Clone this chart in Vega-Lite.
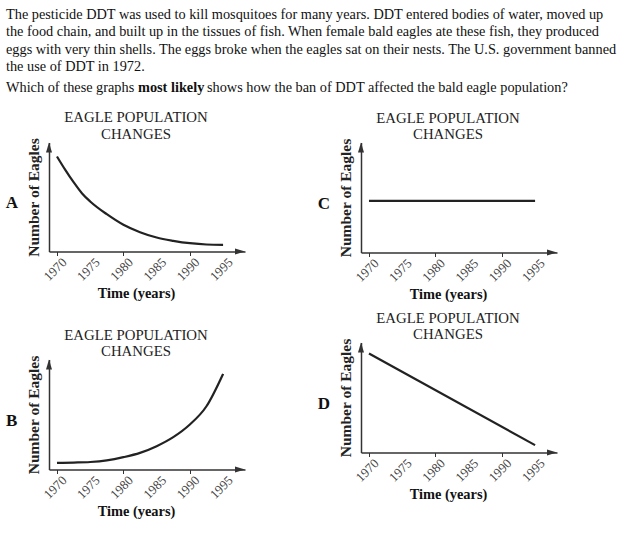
{
  "$schema": "https://vega.github.io/schema/vega-lite/v6.json",
  "background": "white",
  "padding": {"left": 5, "top": 8, "right": 2, "bottom": 2},
  "config": {
    "view": {"stroke": null},
    "font": "Liberation Serif",
    "title": {"font": "Liberation Serif"},
    "axis": {"labelFont": "Liberation Serif", "titleFont": "Liberation Serif"}
  },
  "spacing": 14.5,
  "vconcat": [
    {
      "width": 620,
      "height": 69.5,
      "layer": [
        {
          "data": {"values": [
            {"line": 1, "text": "The pesticide DDT was used to kill mosquitoes for many years.  DDT entered bodies of water, moved up"},
            {"line": 2, "text": "the food chain, and built up in the tissues of fish.  When female bald eagles ate these fish, they produced"},
            {"line": 3, "text": "eggs with very thin shells. The eggs broke when the eagles sat on their nests. The U.S. government banned"},
            {"line": 4, "text": "the use of DDT in 1972."}
          ]},
          "mark": {"type": "text", "align": "left", "baseline": "alphabetic", "fontSize": 14.3, "color": "#111", "dx": -43},
          "encoding": {
            "x": {"datum": 0, "type": "quantitative", "scale": {"domain": [0, 1]}, "axis": null},
            "y": {"field": "line", "type": "quantitative", "scale": {"domain": [1, 5], "reverse": true}, "axis": null},
            "text": {"field": "text"}
          }
        },
        {
          "data": {"values": [{"line": 5, "text": "Which of these graphs"}]},
          "mark": {"type": "text", "align": "left", "baseline": "alphabetic", "fontSize": 14.3, "color": "#111", "dy": 3, "dx": -43},
          "encoding": {
            "x": {"datum": 0, "type": "quantitative"},
            "y": {"field": "line", "type": "quantitative"},
            "text": {"field": "text"}
          }
        },
        {
          "data": {"values": [{"line": 5, "text": "most likely"}]},
          "mark": {"type": "text", "align": "left", "baseline": "alphabetic", "fontSize": 14.3, "fontWeight": "bold", "color": "#111", "dy": 3, "dx": 89},
          "encoding": {
            "x": {"datum": 0, "type": "quantitative"},
            "y": {"field": "line", "type": "quantitative"},
            "text": {"field": "text"}
          }
        },
        {
          "data": {"values": [{"line": 5, "text": "shows how the ban of DDT affected the bald eagle population?"}]},
          "mark": {"type": "text", "align": "left", "baseline": "alphabetic", "fontSize": 14.3, "color": "#111", "dy": 3, "dx": 158},
          "encoding": {
            "x": {"datum": 0, "type": "quantitative"},
            "y": {"field": "line", "type": "quantitative"},
            "text": {"field": "text"}
          }
        }
      ]
    },
    {
      "spacing": 72,
      "hconcat": [
        {
          "spacing": 28,
          "vconcat": [
            {
              "width": 196,
              "height": 109,
              "title": {"text": ["EAGLE POPULATION", "CHANGES"], "fontSize": 14.8, "fontWeight": "normal", "color": "#222", "dx": -11, "lineHeight": 16.5, "offset": -4, "anchor": "middle", "frame": "group"},
              "layer": [
                {
                  "data": {"values": [
                    {"year": 1970, "value": 87.2}, {"year": 1971.25, "value": 74.9}, {"year": 1972.5, "value": 63.6},
                    {"year": 1973.75, "value": 53.5}, {"year": 1975, "value": 45.9}, {"year": 1977.5, "value": 34.2},
                    {"year": 1980, "value": 24.5}, {"year": 1982.5, "value": 17.7}, {"year": 1985, "value": 12.8},
                    {"year": 1987.5, "value": 9.8}, {"year": 1990, "value": 7.6}, {"year": 1992.5, "value": 6.4},
                    {"year": 1995, "value": 6.1}
                  ]},
                  "mark": {"type": "line", "interpolate": "monotone", "color": "#222", "strokeWidth": 2.2},
                  "encoding": {
                    "x": {"field": "year", "type": "quantitative", "scale": {"domain": [1968.8, 1998.3], "nice": false, "zero": false},
                      "axis": {"values": [1970, 1975, 1980, 1985, 1990, 1995], "labels": false, "tickSize": 4, "tickColor": "#333", "domainColor": "#333", "domainWidth": 1.5, "grid": false, "title": "Time (years)", "titleFontSize": 14.4, "titleFontWeight": "bold", "titleColor": "#111", "titleX": 87, "titlePadding": 30}},
                    "y": {"field": "value", "type": "quantitative", "scale": {"domain": [0, 100], "nice": false},
                      "axis": {"title": "Number of Eagles", "titleFontSize": 15.5, "titleFontWeight": "bold", "titleColor": "#222", "titlePadding": 7.5, "ticks": false, "labels": false, "grid": false, "domainColor": "#333", "domainWidth": 1.5}}
                  }
                },
                {
                  "data": {"values": [{"year": 1970}, {"year": 1975}, {"year": 1980}, {"year": 1985}, {"year": 1990}, {"year": 1995}]},
                  "mark": {"type": "text", "angle": 315, "align": "center", "baseline": "middle", "fontSize": 13, "color": "#444", "yOffset": 18, "xOffset": -1.5},
                  "encoding": {"x": {"field": "year", "type": "quantitative"}, "y": {"datum": 0, "type": "quantitative"}, "text": {"field": "year", "type": "quantitative", "format": "d"}}
                },
                {
                  "data": {"values": [{}]},
                  "mark": {"type": "point", "shape": "M-2,-0.6L0,0L-2,0.6Z", "filled": true, "size": 100, "color": "#333", "opacity": 1},
                  "encoding": {"x": {"datum": 1998.3, "type": "quantitative"}, "y": {"datum": 0, "type": "quantitative"}}
                },
                {
                  "data": {"values": [{}]},
                  "mark": {"type": "point", "shape": "M-0.6,2L0,0L0.6,2Z", "filled": true, "size": 100, "color": "#333", "opacity": 1},
                  "encoding": {"x": {"datum": 1968.8, "type": "quantitative"}, "y": {"datum": 100, "type": "quantitative"}}
                },
                {
                  "data": {"values": [{}]},
                  "mark": {"type": "text", "text": "A", "fontSize": 17, "fontWeight": "bold", "color": "#111", "baseline": "middle", "align": "center"},
                  "encoding": {"x": {"datum": 1963.2, "type": "quantitative"}, "y": {"datum": 44.5, "type": "quantitative"}}
                }
              ]
            },
            {
              "width": 196,
              "height": 110,
              "title": {"text": ["EAGLE POPULATION", "CHANGES"], "fontSize": 14.8, "fontWeight": "normal", "color": "#222", "dx": -11, "lineHeight": 16.5, "offset": -4, "anchor": "middle", "frame": "group"},
              "layer": [
                {
                  "data": {"values": [
                    {"year": 1970, "value": 6}, {"year": 1972.5, "value": 6.3}, {"year": 1975, "value": 6.8},
                    {"year": 1977.5, "value": 8.3}, {"year": 1980, "value": 11.2}, {"year": 1982.5, "value": 15.1},
                    {"year": 1985, "value": 21.2}, {"year": 1987.5, "value": 29.4}, {"year": 1990, "value": 40.9},
                    {"year": 1992.5, "value": 57.5}, {"year": 1995, "value": 86.9}
                  ]},
                  "mark": {"type": "line", "interpolate": "monotone", "color": "#222", "strokeWidth": 2.2},
                  "encoding": {
                    "x": {"field": "year", "type": "quantitative", "scale": {"domain": [1968.8, 1998.3], "nice": false, "zero": false},
                      "axis": {"values": [1970, 1975, 1980, 1985, 1990, 1995], "labels": false, "tickSize": 4, "tickColor": "#333", "domainColor": "#333", "domainWidth": 1.5, "grid": false, "title": "Time (years)", "titleFontSize": 14.4, "titleFontWeight": "bold", "titleColor": "#111", "titleX": 87, "titlePadding": 30}},
                    "y": {"field": "value", "type": "quantitative", "scale": {"domain": [0, 100], "nice": false},
                      "axis": {"title": "Number of Eagles", "titleFontSize": 15.5, "titleFontWeight": "bold", "titleColor": "#222", "titlePadding": 7.5, "ticks": false, "labels": false, "grid": false, "domainColor": "#333", "domainWidth": 1.5}}
                  }
                },
                {
                  "data": {"values": [{"year": 1970}, {"year": 1975}, {"year": 1980}, {"year": 1985}, {"year": 1990}, {"year": 1995}]},
                  "mark": {"type": "text", "angle": 315, "align": "center", "baseline": "middle", "fontSize": 13, "color": "#444", "yOffset": 18, "xOffset": -1.5},
                  "encoding": {"x": {"field": "year", "type": "quantitative"}, "y": {"datum": 0, "type": "quantitative"}, "text": {"field": "year", "type": "quantitative", "format": "d"}}
                },
                {
                  "data": {"values": [{}]},
                  "mark": {"type": "point", "shape": "M-2,-0.6L0,0L-2,0.6Z", "filled": true, "size": 100, "color": "#333", "opacity": 1},
                  "encoding": {"x": {"datum": 1998.3, "type": "quantitative"}, "y": {"datum": 0, "type": "quantitative"}}
                },
                {
                  "data": {"values": [{}]},
                  "mark": {"type": "point", "shape": "M-0.6,2L0,0L0.6,2Z", "filled": true, "size": 100, "color": "#333", "opacity": 1},
                  "encoding": {"x": {"datum": 1968.8, "type": "quantitative"}, "y": {"datum": 100, "type": "quantitative"}}
                },
                {
                  "data": {"values": [{}]},
                  "mark": {"type": "text", "text": "B", "fontSize": 17, "fontWeight": "bold", "color": "#111", "baseline": "middle", "align": "center"},
                  "encoding": {"x": {"datum": 1963.2, "type": "quantitative"}, "y": {"datum": 44.5, "type": "quantitative"}}
                }
              ]
            }
          ]
        },
        {
          "spacing": 10,
          "vconcat": [
            {
              "width": 196,
              "height": 110,
              "title": {"text": ["EAGLE POPULATION", "CHANGES"], "fontSize": 14.8, "fontWeight": "normal", "color": "#222", "dx": -11, "lineHeight": 16.5, "offset": -4, "anchor": "middle", "frame": "group"},
              "layer": [
                {
                  "data": {"values": [{"year": 1970, "value": 47}, {"year": 1995, "value": 47}]},
                  "mark": {"type": "line", "color": "#222", "strokeWidth": 2.2},
                  "encoding": {
                    "x": {"field": "year", "type": "quantitative", "scale": {"domain": [1968.8, 1998.3], "nice": false, "zero": false},
                      "axis": {"values": [1970, 1975, 1980, 1985, 1990, 1995], "labels": false, "tickSize": 4, "tickColor": "#333", "domainColor": "#333", "domainWidth": 1.5, "grid": false, "title": "Time (years)", "titleFontSize": 14.4, "titleFontWeight": "bold", "titleColor": "#111", "titleX": 87, "titlePadding": 30}},
                    "y": {"field": "value", "type": "quantitative", "scale": {"domain": [0, 100], "nice": false},
                      "axis": {"title": "Number of Eagles", "titleFontSize": 15.5, "titleFontWeight": "bold", "titleColor": "#222", "titlePadding": 7.5, "ticks": false, "labels": false, "grid": false, "domainColor": "#333", "domainWidth": 1.5}}
                  }
                },
                {
                  "data": {"values": [{"year": 1970}, {"year": 1975}, {"year": 1980}, {"year": 1985}, {"year": 1990}, {"year": 1995}]},
                  "mark": {"type": "text", "angle": 315, "align": "center", "baseline": "middle", "fontSize": 13, "color": "#444", "yOffset": 18, "xOffset": -1.5},
                  "encoding": {"x": {"field": "year", "type": "quantitative"}, "y": {"datum": 0, "type": "quantitative"}, "text": {"field": "year", "type": "quantitative", "format": "d"}}
                },
                {
                  "data": {"values": [{}]},
                  "mark": {"type": "point", "shape": "M-2,-0.6L0,0L-2,0.6Z", "filled": true, "size": 100, "color": "#333", "opacity": 1},
                  "encoding": {"x": {"datum": 1998.3, "type": "quantitative"}, "y": {"datum": 0, "type": "quantitative"}}
                },
                {
                  "data": {"values": [{}]},
                  "mark": {"type": "point", "shape": "M-0.6,2L0,0L0.6,2Z", "filled": true, "size": 100, "color": "#333", "opacity": 1},
                  "encoding": {"x": {"datum": 1968.8, "type": "quantitative"}, "y": {"datum": 100, "type": "quantitative"}}
                },
                {
                  "data": {"values": [{}]},
                  "mark": {"type": "text", "text": "C", "fontSize": 17, "fontWeight": "bold", "color": "#111", "baseline": "middle", "align": "center"},
                  "encoding": {"x": {"datum": 1963.2, "type": "quantitative"}, "y": {"datum": 44.5, "type": "quantitative"}}
                }
              ]
            },
            {
              "width": 196,
              "height": 110,
              "title": {"text": ["EAGLE POPULATION", "CHANGES"], "fontSize": 14.8, "fontWeight": "normal", "color": "#222", "dx": -11, "lineHeight": 16.5, "offset": -4, "anchor": "middle", "frame": "group"},
              "layer": [
                {
                  "data": {"values": [{"year": 1970, "value": 90}, {"year": 1995, "value": 6.7}]},
                  "mark": {"type": "line", "color": "#222", "strokeWidth": 2.2},
                  "encoding": {
                    "x": {"field": "year", "type": "quantitative", "scale": {"domain": [1968.8, 1998.3], "nice": false, "zero": false},
                      "axis": {"values": [1970, 1975, 1980, 1985, 1990, 1995], "labels": false, "tickSize": 4, "tickColor": "#333", "domainColor": "#333", "domainWidth": 1.5, "grid": false, "title": "Time (years)", "titleFontSize": 14.4, "titleFontWeight": "bold", "titleColor": "#111", "titleX": 87, "titlePadding": 30}},
                    "y": {"field": "value", "type": "quantitative", "scale": {"domain": [0, 100], "nice": false},
                      "axis": {"title": "Number of Eagles", "titleFontSize": 15.5, "titleFontWeight": "bold", "titleColor": "#222", "titlePadding": 7.5, "ticks": false, "labels": false, "grid": false, "domainColor": "#333", "domainWidth": 1.5}}
                  }
                },
                {
                  "data": {"values": [{"year": 1970}, {"year": 1975}, {"year": 1980}, {"year": 1985}, {"year": 1990}, {"year": 1995}]},
                  "mark": {"type": "text", "angle": 315, "align": "center", "baseline": "middle", "fontSize": 13, "color": "#444", "yOffset": 18, "xOffset": -1.5},
                  "encoding": {"x": {"field": "year", "type": "quantitative"}, "y": {"datum": 0, "type": "quantitative"}, "text": {"field": "year", "type": "quantitative", "format": "d"}}
                },
                {
                  "data": {"values": [{}]},
                  "mark": {"type": "point", "shape": "M-2,-0.6L0,0L-2,0.6Z", "filled": true, "size": 100, "color": "#333", "opacity": 1},
                  "encoding": {"x": {"datum": 1998.3, "type": "quantitative"}, "y": {"datum": 0, "type": "quantitative"}}
                },
                {
                  "data": {"values": [{}]},
                  "mark": {"type": "point", "shape": "M-0.6,2L0,0L0.6,2Z", "filled": true, "size": 100, "color": "#333", "opacity": 1},
                  "encoding": {"x": {"datum": 1968.8, "type": "quantitative"}, "y": {"datum": 100, "type": "quantitative"}}
                },
                {
                  "data": {"values": [{}]},
                  "mark": {"type": "text", "text": "D", "fontSize": 17, "fontWeight": "bold", "color": "#111", "baseline": "middle", "align": "center"},
                  "encoding": {"x": {"datum": 1963.2, "type": "quantitative"}, "y": {"datum": 44.5, "type": "quantitative"}}
                }
              ]
            }
          ]
        }
      ]
    }
  ]
}
